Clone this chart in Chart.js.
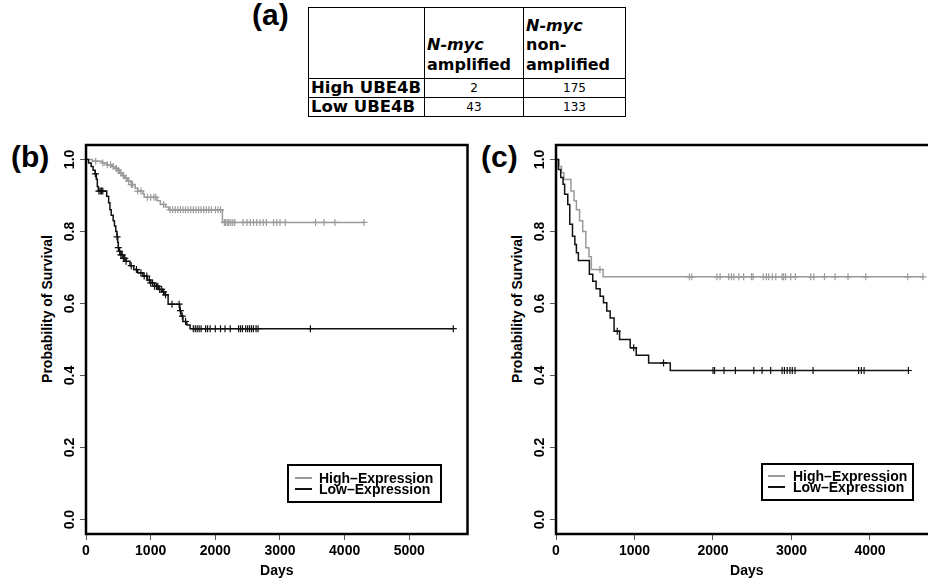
<!DOCTYPE html>
<html>
<head>
<meta charset="utf-8">
<script src="https://cdn.jsdelivr.net/npm/chart.js@4.4.1/dist/chart.umd.min.js"></script>
<style>
  body { margin: 0; width: 928px; height: 584px; overflow: hidden; background: #fff; position: relative; font-family: "Liberation Sans", Arial, sans-serif; color: #000; }
  canvas { position: absolute; }
  .tag { position: absolute; font: bold 30px/30px "Liberation Sans", Arial, sans-serif; }
  .ytitle { position: absolute; width: 200px; height: 16px; font: bold 14px/16px "Liberation Sans", Arial, sans-serif; text-align: center; transform: rotate(-90deg); }
  .legbox { position: absolute; border: 2px solid #000; box-sizing: border-box; }
  .legtxt { position: absolute; font: bold 14px/14px "Liberation Sans", Arial, sans-serif; white-space: nowrap; }
  .legline { position: absolute; height: 2px; }
  #tbl { position: absolute; left: 308px; top: 7px; border-collapse: collapse; font-family: "DejaVu Sans", Verdana, sans-serif; }
  #tbl td { border: 1px solid #000; padding: 0 2px; }
  #tbl .hd td { height: 66px; vertical-align: bottom; padding-bottom: 4px; font-weight: bold; font-size: 16px; line-height: 19.5px; text-align: left; }
  #tbl .rl { font-weight: bold; font-size: 16.5px; line-height: 18px; height: 18px; }
  #tbl .v { font-size: 12px; text-align: center; }
</style>
</head>
<body>
<div class="tag" style="left:252px; top:0px;">(a)</div>
<table id="tbl">
  <colgroup><col style="width:116px"><col style="width:99px"><col style="width:102px"></colgroup>
  <tr class="hd"><td></td><td><i>N-myc</i><br>amplified</td><td><i>N-myc</i><br>non-<br>amplified</td></tr>
</table>

<div class="tag" style="left:11px; top:142px;">(b)</div>
<div class="tag" style="left:481px; top:142px;">(c)</div>
<div class="ytitle" style="left:-53px; top:301px;">Probability of Survival</div>
<div class="ytitle" style="left:417px; top:301px;">Probability of Survival</div>

<canvas id="chartB" width="480" height="454" style="left:0px; top:130px;"></canvas>
<canvas id="chartC" width="480" height="454" style="left:470px; top:130px;"></canvas>

<div class="legbox" style="left:287px; top:464px; width:155px; height:39px;"></div>
<div class="legline" style="left:295px; top:477px; width:17px; background:#9a9a9a;"></div>
<div class="legline" style="left:295px; top:488px; width:17px; background:#111;"></div>
<div class="legtxt" style="left:319px; top:471px;">High–Expression</div>
<div class="legtxt" style="left:319px; top:482px;">Low–Expression</div>

<div class="legbox" style="left:761px; top:463px; width:153px; height:38px;"></div>
<div class="legline" style="left:768px; top:475px; width:17px; background:#9a9a9a;"></div>
<div class="legline" style="left:768px; top:486px; width:17px; background:#111;"></div>
<div class="legtxt" style="left:793px; top:469px;">High–Expression</div>
<div class="legtxt" style="left:793px; top:480px;">Low–Expression</div>

<script>
// table (a)
const tableRows = ['High UBE4B', 'Low UBE4B'];
const nmycAmplified = [2, 43];
const nmycNonAmplified = [175, 133];

// (b) all patients, Kaplan-Meier steps
const hiB_days = [0, 100, 250, 330, 400, 450, 480, 520, 560, 600, 640, 700, 760, 800, 880, 900, 1100, 1150, 1230, 1280, 2110];
const hiB_surv = [1, 0.995, 0.99, 0.985, 0.98, 0.975, 0.97, 0.962, 0.955, 0.948, 0.94, 0.93, 0.92, 0.912, 0.905, 0.895, 0.885, 0.875, 0.868, 0.86, 0.825];
const hiB_cens = [150, 260, 330, 380, 420, 470, 500, 540, 580, 620, 660, 700, 720, 800, 850, 950, 1000, 1050, 1080, 1200,
  1300, 1340, 1380, 1420, 1460, 1500, 1540, 1580, 1620, 1660, 1700, 1740, 1780, 1820, 1860, 1900, 1940, 2000, 2040, 2080,
  2140, 2160, 2190, 2210, 2240, 2270, 2300, 2430, 2490, 2540, 2590, 2640, 2690, 2740, 2790, 2900, 2950, 3000, 3080, 3550, 3680, 3850, 4300];

const loB_days = [0, 40, 80, 110, 140, 160, 175, 190, 320, 350, 370, 390, 420, 440, 460, 480, 490, 500, 510, 540, 580, 620, 680, 740, 800, 880, 950, 1000, 1060, 1120, 1180, 1220, 1270, 1450, 1470, 1500, 1560, 1610];
const loB_surv = [1, 0.99, 0.98, 0.97, 0.96, 0.945, 0.925, 0.912, 0.898, 0.88, 0.86, 0.845, 0.83, 0.815, 0.8, 0.785, 0.77, 0.755, 0.745, 0.735, 0.725, 0.717, 0.705, 0.694, 0.685, 0.676, 0.665, 0.657, 0.648, 0.639, 0.632, 0.624, 0.598, 0.58, 0.565, 0.55, 0.54, 0.53];
const loB_cens = [145, 200, 220, 240, 260, 480, 500, 520, 540, 560, 580, 600, 620, 700, 780, 850, 900, 940, 980, 1000, 1030, 1060, 1090, 1110, 1140, 1170, 1200, 1230,
  1330, 1440, 1460, 1490, 1540, 1660, 1690, 1720, 1750, 1780, 1850, 1880, 1920, 2000, 2080, 2150, 2230, 2360, 2390, 2420, 2470, 2500, 2530, 2560, 2590, 2630, 2660, 3470, 5680];

// (c) N-myc amplified subset
const hiC_days = [0, 40, 70, 100, 190, 230, 260, 300, 340, 380, 420, 450, 600];
const hiC_surv = [1, 0.98, 0.963, 0.944, 0.912, 0.885, 0.86, 0.83, 0.8, 0.755, 0.73, 0.694, 0.674];
const hiC_cens = [560, 1700, 1730, 2050, 2090, 2200, 2235, 2265, 2330, 2390, 2490, 2510, 2640, 2680, 2710, 2755, 2800, 2880, 2900, 2925, 2990, 3050, 3245, 3285, 3420, 3555, 3720, 3945, 4480, 4675];

const loC_days = [0, 30, 60, 90, 110, 150, 175, 210, 240, 260, 285, 425, 468, 511, 562, 605, 647, 690, 740, 810, 945, 1022, 1180, 1456];
const loC_surv = [1, 0.972, 0.95, 0.931, 0.903, 0.875, 0.82, 0.787, 0.764, 0.741, 0.719, 0.681, 0.662, 0.641, 0.62, 0.602, 0.579, 0.56, 0.523, 0.5, 0.477, 0.456, 0.435, 0.414];
const loC_cens = [780, 990, 1370, 2000, 2020, 2140, 2285, 2520, 2625, 2735, 2880, 2910, 2945, 2980, 3010, 3045, 3275, 3855, 3890, 3925, 4490];

// axis ticks
const xTicksB = [0, 1000, 2000, 3000, 4000, 5000];
const xTicksC = [0, 1000, 2000, 3000, 4000];
const yTicks = [0, 0.2, 0.4, 0.6, 0.8, 1.0];

const GRAY = '#9a9a9a';
const BLACK = '#111';

// build table body
const tbl = document.getElementById('tbl');
tableRows.forEach((name, i) => {
  const tr = document.createElement('tr');
  tr.innerHTML = '<td class="rl">' + name + '</td><td class="v">' + nmycAmplified[i] + '</td><td class="v">' + nmycNonAmplified[i] + '</td>';
  tbl.appendChild(tr);
});

// survival value in force at day t (step function)
function survAt(days, surv, t) {
  let s = surv[0];
  for (let i = 0; i < days.length; i++) {
    if (days[i] <= t) s = surv[i];
  }
  return s;
}

function curve(days, surv, cens) {
  const pts = days.map((d, i) => ({ x: d, y: surv[i] }));
  pts.push({ x: cens[cens.length - 1], y: surv[surv.length - 1] });
  return pts;
}

function marks(days, surv, cens) {
  return cens.map(t => ({ x: t, y: survAt(days, surv, t) }));
}

const framePlugin = {
  id: 'frame',
  afterDraw(chart) {
    const { ctx, chartArea: a } = chart;
    ctx.save();
    ctx.strokeStyle = '#000';
    ctx.lineWidth = 2.5;
    ctx.strokeRect(a.left, a.top, a.right - a.left, a.bottom - a.top);
    ctx.restore();
  }
};

Chart.defaults.font.family = '"Liberation Sans", Arial, sans-serif';
Chart.defaults.color = '#000';

function drawKM(id, xMax, xTicks, hi, lo) {
  const font = { size: 14, weight: 'bold' };
  const lineSet = (d, color) => ({
    data: curve(...d), showLine: true, stepped: 'before',
    borderColor: color, borderWidth: 1.5, pointRadius: 0
  });
  const crossSet = (d, color) => ({
    data: marks(...d), showLine: false, pointStyle: 'cross',
    pointRadius: 3.5, pointBorderWidth: 1.2, pointBorderColor: color, pointBackgroundColor: color
  });
  return new Chart(document.getElementById(id), {
    type: 'scatter',
    data: {
      datasets: [lineSet(lo, BLACK), crossSet(lo, BLACK), lineSet(hi, GRAY), crossSet(hi, GRAY)]
    },
    options: {
      responsive: false,
      animation: false,
      events: [],
      layout: { padding: { top: 15, right: 12.5, left: 0, bottom: 0 } },
      plugins: { legend: { display: false }, tooltip: { enabled: false } },
      scales: {
        x: {
          type: 'linear', min: 0, max: xMax,
          border: { display: false },
          grid: { drawOnChartArea: false, drawTicks: true, tickLength: 6, color: '#555' },
          afterBuildTicks: s => { s.ticks = xTicks.map(v => ({ value: v })); },
          ticks: { padding: 3, font, maxRotation: 0, autoSkip: false, callback: v => String(v) },
          title: { display: true, text: 'Days', font, padding: { top: 0, bottom: 4 } },
          afterFit: s => { s.height = 50; }
        },
        y: {
          type: 'linear', min: -0.04, max: 1.04,
          border: { display: false },
          grid: { drawOnChartArea: false, drawTicks: true, tickLength: 6, color: '#555' },
          afterBuildTicks: s => { s.ticks = yTicks.map(v => ({ value: v })); },
          ticks: { padding: 0.5, font, minRotation: 90, maxRotation: 90, crossAlign: 'center', autoSkip: false,
                   callback: v => v.toFixed(1) },
          afterFit: s => { s.width = 86; }
        }
      }
    },
    plugins: [framePlugin]
  });
}

drawKM('chartB', 5900, xTicksB, [hiB_days, hiB_surv, hiB_cens], [loB_days, loB_surv, loB_cens]);
drawKM('chartC', 4860, xTicksC, [hiC_days, hiC_surv, hiC_cens], [loC_days, loC_surv, loC_cens]);
</script>
</body>
</html>
